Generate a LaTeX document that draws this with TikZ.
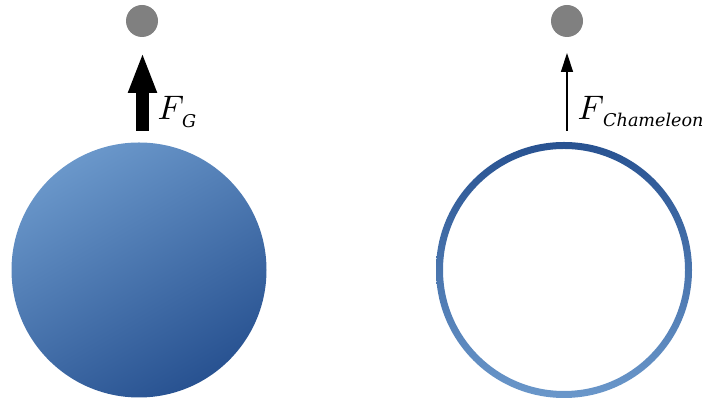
\documentclass[tikz,border=0pt]{standalone}
\usepackage{fontspec}
\newfontfamily\subfont{DejaVu Serif}
\usetikzlibrary{arrows.meta}
\definecolor{blight}{RGB}{106,151,202}
\definecolor{bdark}{RGB}{40,82,145}
\definecolor{dotgray}{RGB}{128,128,128}
\tikzset{
  testdot/.style={fill=dotgray},
  forcelbl/.style={anchor=base west, inner sep=0pt, scale=3.4},
  sublbl/.style={anchor=base west, inner sep=0pt, font=\subfont\itshape\fontsize{17.6}{20}\selectfont},
  bigforce/.style={line width=13pt, -{Triangle[length=41pt,width=26pt]}},
  thinforce/.style={line width=1.3pt, -{Triangle[length=19pt,width=12pt]}}
}
\begin{document}
\begin{tikzpicture}[x=1pt,y=1pt]
\useasboundingbox (0,0) rectangle (707,403);
% solid sphere
\shade[top color=blight, bottom color=bdark, shading angle=30] (139,133) circle (127.5);
% shell
\shade[top color=bdark, bottom color=blight, even odd rule] (564,133) circle (128) (564,133) circle (121);
% test masses
\fill[testdot] (142,382) circle (16);
\fill[testdot] (567,382) circle (16);
% forces
\coordinate (gA) at (142.5,272);
\coordinate (gB) at (142.5,351);
\draw[bigforce] (gA) -- (gB);
\coordinate (cA) at (567,272);
\coordinate (cB) at (567,350);
\draw[thinforce] (cA) -- (cB);
\node[forcelbl] (lg) at (157,283.5) {$F$};
\node[sublbl] (lgs) at (182,275) {G};
\node[forcelbl] (lc) at (577,283.5) {$F$};
\node[sublbl] (lcs) at (603,276) {Chameleon};
\end{tikzpicture}
\end{document}
